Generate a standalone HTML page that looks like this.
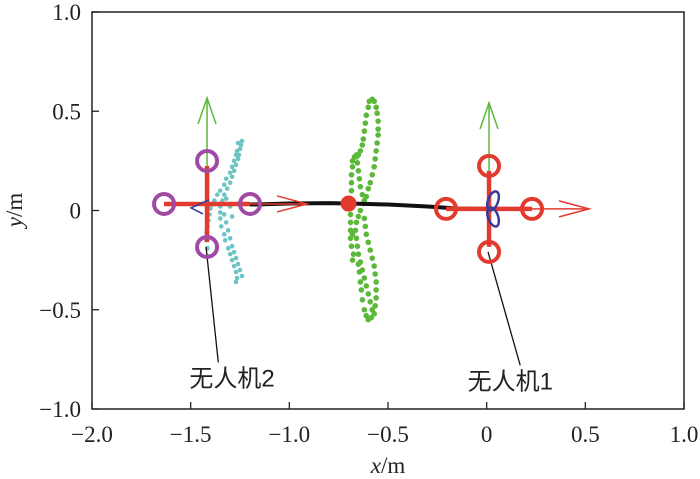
<!DOCTYPE html>
<html><head><meta charset="utf-8"><style>
body{margin:0;background:#fff;}
svg{display:block;font-family:"Liberation Serif","Noto Serif CJK SC",serif;}
</style></head><body>
<svg id="c" width="700" height="479" viewBox="0 0 700 479"></svg>
<script>
const xTicks=[-2.0,-1.5,-1.0,-0.5,0,0.5,1.0];
const xTickLabels=["\u22122.0","\u22121.5","\u22121.0","\u22120.5","0","0.5","1.0"];
const yTicks=[-1.0,-0.5,0,0.5,1.0];
const yTickLabels=["\u22121.0","\u22120.5","0","0.5","1.0"];
const trajX=[-1.2,-1.0,-0.8,-0.7,-0.5,-0.3,-0.15,0.01];
const trajY=[0.03,0.035,0.037,0.035,0.03,0.02,0.01,0.008];
const greenX=[-0.58,-0.57,-0.56,-0.555,-0.55,-0.55,-0.55,-0.555,-0.56,-0.565,-0.57,-0.58,-0.59,-0.60,-0.61,-0.625,-0.64,-0.65,-0.66,-0.665,-0.66,-0.655,-0.65,-0.64,-0.63,-0.62,-0.61,-0.60,-0.59,-0.58,-0.585,-0.60,-0.61,-0.62,-0.63,-0.635,-0.64,-0.645,-0.65,-0.595,-0.60,-0.61,-0.615,-0.62,-0.625,-0.63,-0.64,-0.65,-0.66,-0.67,-0.68,-0.68,-0.685,-0.685,-0.685,-0.69,-0.69,-0.69,-0.69,-0.69,-0.69,-0.685,-0.66,-0.655,-0.65,-0.645,-0.64,-0.63,-0.62,-0.62,-0.615,-0.61,-0.60,-0.59,-0.58,-0.57,-0.565,-0.56,-0.56,-0.56,-0.565,-0.57,-0.675,-0.68,-0.68];
const greenY=[0.56,0.55,0.52,0.49,0.45,0.41,0.38,0.34,0.30,0.26,0.22,0.18,0.14,0.11,0.07,0.035,0.0,-0.03,-0.06,-0.10,-0.14,-0.18,-0.22,-0.26,-0.30,-0.34,-0.38,-0.42,-0.46,-0.50,-0.54,-0.55,-0.53,-0.50,-0.45,-0.40,-0.36,-0.31,-0.27,0.55,0.52,0.48,0.44,0.40,0.36,0.33,0.30,0.28,0.27,0.27,0.25,0.22,0.18,0.14,0.10,0.06,0.02,-0.02,-0.06,-0.10,-0.14,-0.18,0.28,0.24,0.20,0.16,0.12,0.08,0.05,-0.04,-0.08,-0.12,-0.16,-0.20,-0.24,-0.28,-0.32,-0.36,-0.40,-0.44,-0.48,-0.52,-0.22,-0.25,-0.12];
const cyanX=[-1.24,-1.245,-1.25,-1.255,-1.26,-1.27,-1.28,-1.29,-1.30,-1.315,-1.33,-1.34,-1.35,-1.35,-1.35,-1.345,-1.33,-1.325,-1.31,-1.30,-1.29,-1.28,-1.27,-1.265,-1.27,-1.26,-1.265,-1.27,-1.28,-1.29,-1.30,-1.32,-1.33,-1.35,-1.365,-1.38,-1.39,-1.40,-1.405,-1.41,-1.415,-1.42,-1.42,-1.415,-1.41,-1.33,-1.32,-1.31,-1.30,-1.29,-1.28,-1.27,-1.26,-1.25,-1.24,-1.30,-1.29,-1.32];
const cyanY=[0.35,0.33,0.31,0.28,0.26,0.23,0.20,0.17,0.14,0.11,0.08,0.05,0.02,-0.01,-0.04,-0.08,-0.12,-0.15,-0.19,-0.22,-0.25,-0.28,-0.31,-0.34,-0.36,0.34,0.30,0.28,0.25,0.22,0.19,0.16,0.13,0.10,0.08,0.05,0.03,0.01,-0.02,-0.05,-0.08,-0.11,-0.15,-0.19,-0.23,-0.02,-0.06,-0.10,-0.14,-0.18,-0.21,-0.24,-0.27,-0.30,-0.33,0.02,-0.03,0.06];
const drones=[{name:"uav-1",label:"无人机1",x:0.012,y:0.008,color:"#e23a2e",lx:0.17,ly:-0.78,tx:0.12},
              {name:"uav-2",label:"无人机2",x:-1.417,y:0.033,color:"#a04aa6",lx:-1.36,ly:-0.765,tx:-1.29}];
const X0=92,X1=684,Y0=409,Y1=12;
const sx=v=>X0+(v+2)/3*(X1-X0);
const sy=v=>Y0-(v+1)/2*(Y0-Y1);
const svg=document.getElementById('c');
const NS='http://www.w3.org/2000/svg';
function mk(t,a,p){const e=document.createElementNS(NS,t);for(const k in a)e.setAttribute(k,a[k]);(p||svg).appendChild(e);return e;}
let f=mk('rect',{x:X0,y:Y1,width:X1-X0,height:Y0-Y1,fill:'none',stroke:'#222','stroke-width':1.5});


xTicks.forEach((v,i)=>{
 let t=mk('line',{x1:sx(v),x2:sx(v),y1:Y0,y2:Y0-7,stroke:'#222','stroke-width':1.3});
 
 
 let l=mk('text',{x:sx(v),y:442,'font-size':23,'text-anchor':'middle',fill:'#222'});l.textContent=xTickLabels[i];
 
 
});
yTicks.forEach((v,i)=>{
 let t=mk('line',{x1:X0,x2:X0+7,y1:sy(v),y2:sy(v),stroke:'#222','stroke-width':1.3});
 
 
 let l=mk('text',{x:81,y:sy(v)+8,'font-size':23,'text-anchor':'end',fill:'#222'});l.textContent=yTickLabels[i];
 
 
});
let xl=mk('text',{x:388,y:473,'font-size':23,'text-anchor':'middle',fill:'#222'});
xl.innerHTML='<tspan font-style="italic">x</tspan>/m';


let yl=mk('text',{x:22,y:210,'font-size':23,'text-anchor':'middle',fill:'#222',transform:'rotate(-90 22 210)'});
yl.innerHTML='<tspan font-style="italic">y</tspan>/m';


greenX.forEach((v,i)=>{let c=mk('circle',{cx:sx(v),cy:sy(greenY[i]),r:2.8,fill:'#5cb83a'});
 
 });
cyanX.forEach((v,i)=>{let c=mk('circle',{cx:sx(v),cy:sy(cyanY[i]),r:2.3,fill:'#6cc4c4'});
 
 });
let tp=mk('polyline',{points:trajX.map((v,i)=>sx(v)+','+sy(trajY[i])).join(' '),fill:'none',stroke:'#111','stroke-width':4});


let rd=mk('circle',{cx:sx(-0.7),cy:sy(0.035),r:8,fill:'#e23a2e'});


drones.forEach(d=>{
 const g=mk('g',{});
 
 
 const cx=sx(d.x),cy=sy(d.y),a=43;
 mk('line',{x1:cx-1,y1:cy+a,x2:sx(d.lx),y2:sy(d.ly),stroke:'#111','stroke-width':1.3},g);
 let lb=mk('text',{x:sx(d.tx),y:sy(d.ly)+24,'font-size':24,'text-anchor':'middle',fill:'#222','font-family':'"Liberation Sans","Noto Sans CJK SC",sans-serif'},g);
 lb.textContent=d.label;
 
 
 mk('line',{x1:cx,y1:cy,x2:cx,y2:cy-106,stroke:'#5cb83a','stroke-width':1.5},g);
 mk('polyline',{points:`${cx-9},${cy-80} ${cx},${cy-106} ${cx+9},${cy-80}`,fill:'none',stroke:'#5cb83a','stroke-width':1.5},g);
 mk('line',{x1:cx,y1:cy,x2:cx+100,y2:cy,stroke:'#e23a2e','stroke-width':1.5},g);
 mk('polyline',{points:`${cx+70},${cy-8} ${cx+100},${cy} ${cx+70},${cy+8}`,fill:'none',stroke:'#e23a2e','stroke-width':1.5},g);
 mk('line',{x1:cx-a,y1:cy,x2:cx+a,y2:cy,stroke:'#e23a2e','stroke-width':4.5},g);
 mk('line',{x1:cx,y1:cy-a+5,x2:cx,y2:cy+a-5,stroke:'#e23a2e','stroke-width':4.5},g);
 [[a,0],[-a,0],[0,a],[0,-a]].forEach(o=>mk('circle',{cx:cx+o[0],cy:cy+o[1],r:10,fill:'none',stroke:d.color,'stroke-width':4},g));
 if(d.name=='uav-1'){
  mk('ellipse',{cx:cx+4,cy:cy-8,rx:5,ry:10,fill:'none',stroke:'#3a3a9a','stroke-width':2.5,transform:`rotate(20 ${cx+4} ${cy-8})`},g);
  mk('ellipse',{cx:cx+4,cy:cy+8,rx:5,ry:10,fill:'none',stroke:'#3a3a9a','stroke-width':2.5,transform:`rotate(-20 ${cx+4} ${cy+8})`},g);
 } else {
  mk('polyline',{points:`${cx+2},${cy-4} ${cx-16},${cy+4} ${cx-4},${cy+10}`,fill:'none',stroke:'#3a3a9a','stroke-width':1.5},g);
 }
});
</script>
</body></html>
